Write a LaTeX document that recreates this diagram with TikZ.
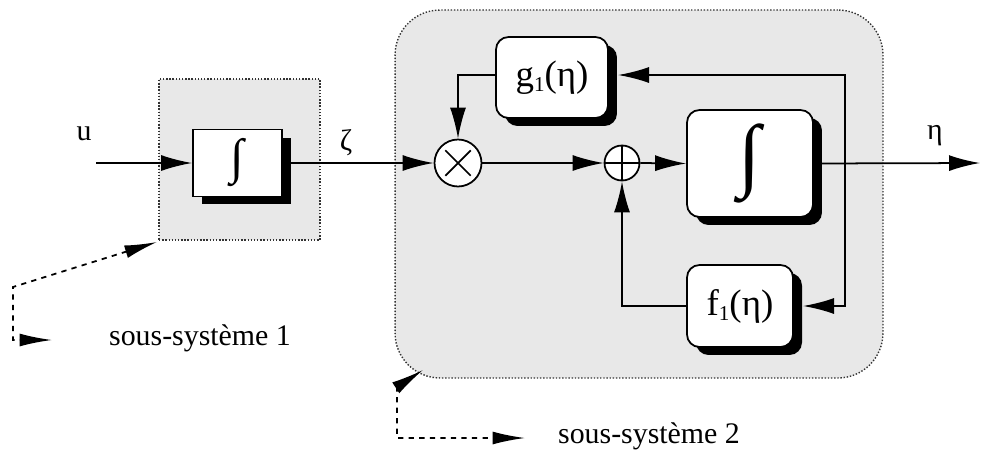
\documentclass[tikz,border=0pt]{standalone}
\usepackage{fontspec}
\setmainfont{Liberation Serif}
\usetikzlibrary{arrows.meta,shadows}
\begin{document}
\begin{tikzpicture}[x=0.02cm,y=-0.02cm,
  every node/.style={font=\fontsize{17}{20}\selectfont},
  arr/.style={-{Latex[length=0.62cm,width=0.32cm]},line width=1pt},
  darr/.style={{Latex[length=0.65cm,width=0.26cm]}-{Latex[length=0.65cm,width=0.26cm]},dashed,line width=1pt},
  sub/.style={draw=black!80,densely dotted,line width=0.8pt,fill=black!9},
  blk/.style={draw,line width=1pt,fill=white,inner sep=0pt,
    drop shadow={shadow xshift=0.18cm,shadow yshift=-0.16cm,fill=black,opacity=1}},
  rblk/.style={blk,rounded corners=0.25cm,font=\fontsize{21}{24}\selectfont},
  op/.style={circle,draw,line width=1pt,fill=white,inner sep=0pt}]
\useasboundingbox (0,0) rectangle (983,450);
% subsystems
\node[sub,minimum width=3.22cm,minimum height=3.22cm] (s1) at (239.5,159.5) {};
\node[sub,rounded corners=0.9cm,minimum width=9.76cm,minimum height=7.36cm] (s2) at (639,194) {};
% blocks
\node[blk,minimum width=1.78cm,minimum height=1.34cm] (int1) at (237.5,163) {\fontsize{28}{30}\selectfont ∫};
\node[rblk,minimum width=2.24cm,minimum height=1.62cm] (g) at (552,77.5) {g\raisebox{-0.3ex}{\fontsize{12}{12}\selectfont 1}(η)};
\node[rblk,minimum width=2.52cm,minimum height=2.14cm] (int2) at (750,163.5) {\fontsize{46}{48}\selectfont ∫};
\node[rblk,minimum width=2.12cm,minimum height=1.64cm] (f) at (740,306) {f\raisebox{-0.3ex}{\fontsize{12}{12}\selectfont 1}(η)};
\node[op,minimum size=0.94cm] (mul) at (458,163) {};
\draw[line width=1pt] ([shift={(45:0.36cm)}]mul.center) -- ([shift={(225:0.36cm)}]mul.center)
  ([shift={(135:0.36cm)}]mul.center) -- ([shift={(315:0.36cm)}]mul.center);
\node[op,minimum size=0.7cm] (add) at (622,163) {};
\draw[line width=1pt] (add.north) -- (add.south) (add.west) -- (add.east);
% coordinates
\coordinate (uin) at (96,163);
\coordinate (out) at (980,163);
\coordinate (tap) at (845,163);
\coordinate (gin) at (618,75);
\coordinate (fin) at (803,306);
% labels
\node (u) at (84,134) {u};
\node (zeta) at (346,143) {ζ};
\node (eta) at (935,136) {η};
\node (l1) at (200,338) {sous-système 1};
\node (l2) at (649,436) {sous-système 2};
% connectors
\draw[arr] (uin) -- (int1.west);
\draw[arr] (int1.east) -- (mul.west);
\draw[arr] (mul.east) -- (add.west);
\draw[arr] (add.east) -- (int2.west);
\draw[arr] (int2.east) -- (out);
\draw[arr] (tap) |- (gin);
\draw[arr] (tap) |- (fin);
\draw[arr] (g.west |- gin) -| (mul.north);
\draw[arr] (f.west) -| (add.south);
% dashed pointers
\coordinate (c1) at (157,242);
\coordinate (c1e) at (52,340);
\draw[darr] (c1) -- (13,287) -- (13,340) -- (c1e);
\coordinate (c2) at (423,370);
\coordinate (c2e) at (525,438);
\draw[darr] (c2) -- (397,387) -- (397,438) -- (c2e);
\end{tikzpicture}
\end{document}
